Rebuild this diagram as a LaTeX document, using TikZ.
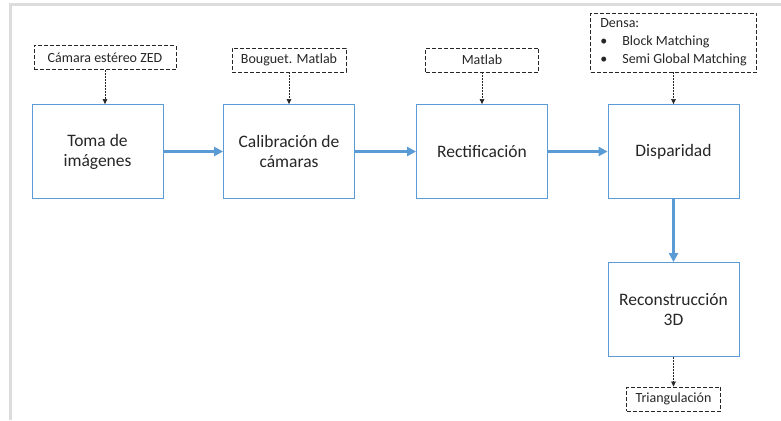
\documentclass[tikz,border=0pt]{standalone}
\usepackage{fontspec}
\setmainfont{Carlito}
\usetikzlibrary{arrows.meta}
\definecolor{azul}{HTML}{5B9BD5}
\definecolor{marco}{HTML}{DCDCDC}
\begin{document}
\begin{tikzpicture}[x=1pt,y=-1pt]
	\useasboundingbox (0,0) rectangle (781,420);
	\draw[marco,line width=3pt] (781,5) -- (10,5) -- (10,420);
	\tikzstyle{Paso}=[draw=azul,line width=0.8pt,minimum width=131pt,minimum height=94pt,align=center,text=black!85,font=\fontsize{17.5}{20}\selectfont]
	\tikzstyle{Nota}=[draw=black!85,line width=0.8pt,dash pattern=on 4pt off 2pt,minimum height=24pt,inner sep=2pt,text=black!85,font=\fontsize{14}{18}\selectfont]
	\tikzstyle{Flujo}=[draw=azul,line width=2.6pt,-{Triangle[length=9pt,width=9pt]}]
	\tikzstyle{Guia}=[draw=black!85,line width=0.6pt,dash pattern=on 2pt off 1pt,-{Triangle[length=5pt,width=4.5pt]}]
	\node[Paso] (toma) at (97.5,151.5) {Toma de\\imágenes};
	\node[Paso] (calib) at (289,151.5) {Calibración de\\cámaras};
	\node[Paso] (rect) at (482,151.5) {Rectificación};
	\node[Paso] (disp) at (673.5,151.5) {Disparidad};
	\node[Paso] (recon) at (673.5,309.5) {Reconstrucción\\3D};
	\node[Nota,minimum width=142pt] (zed) at (105,57.5) {Cámara estéreo ZED};
	\node[Nota,minimum width=114pt] (boug) at (289,60) {Bouguet. Matlab};
	\node[Nota,minimum width=113pt] (mat) at (482,60) {Matlab};
	\node[Nota,minimum width=166pt,minimum height=59pt,align=left] (densa) at (673.5,42.5) {Densa:\\\makebox[22pt][l]{\textbullet}Block Matching\\\makebox[22pt][l]{\textbullet}Semi Global Matching};
	\node[Nota,minimum width=94pt] (tri) at (673.5,399) {Triangulación};
	\draw[Guia] (zed) -- (zed |- toma.north);
	\draw[Guia] (boug) -- (calib);
	\draw[Guia] (mat) -- (rect);
	\draw[Guia] (densa) -- (disp);
	\draw[Guia] (recon) -- (tri);
	\draw[Flujo] (toma) -- (calib);
	\draw[Flujo] (calib) -- (rect);
	\draw[Flujo] (rect) -- (disp);
	\draw[Flujo] (disp) -- (recon);
\end{tikzpicture}
\end{document}
